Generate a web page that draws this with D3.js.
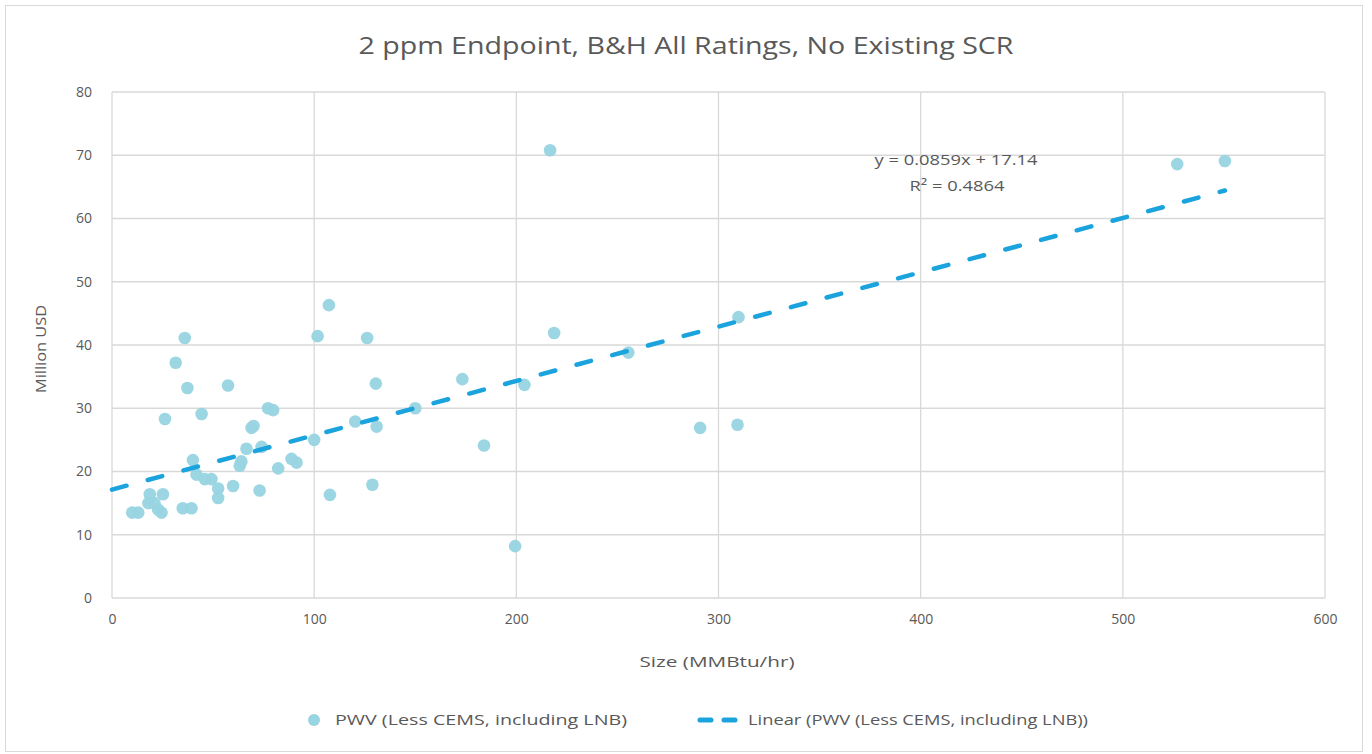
<!DOCTYPE html>
<html><head><meta charset="utf-8">
<script src="https://cdn.jsdelivr.net/npm/d3@7"></script>
<style>
body{margin:0;background:#fff;}
text{font-family:"Open Sans","Noto Sans",sans-serif;fill:#595959;}
</style>
</head><body>
<svg id="c" width="1372" height="754"></svg>
<script>
const title = "2 ppm Endpoint, B&H All Ratings, No Existing SCR";
const xLabel = "Size (MMBtu/hr)";
const yLabel = "Million USD";
const seriesName = "PWV (Less CEMS, including LNB)";
const trendName = "Linear (PWV (Less CEMS, including LNB))";
const eqText = "y = 0.0859x + 17.14";
const r2Text = "R² = 0.4864";
const slope = 0.0859, intercept = 17.14;
const xTicks = [0,100,200,300,400,500,600];
const yTicks = [0,10,20,30,40,50,60,70,80];

const sizeX = [10,13,18,21,18.7,25.2,22.8,24.5,35,39.3,
  26.2,36,31.5,37.3,44.3,57.4,
  40,41.8,45.9,49.2,52.5,52.5,59.9,73,
  63.2,64,66.5,74,69,70,77.2,79.7,
  82.2,88.8,91.3,
  100,101.7,107.3,107.8,
  120.3,126.2,128.8,130.5,130.9,
  150,173.3,184,199.4,204,216.7,218.7,255.4,290.9,309.4,309.9,526.9,550.5];
const pwvY = [13.5,13.5,15,15,16.4,16.4,14,13.5,14.2,14.2,
  28.3,41.1,37.2,33.2,29.1,33.6,
  21.8,19.5,18.8,18.8,17.3,15.8,17.7,17,
  20.9,21.6,23.6,23.9,26.9,27.2,30,29.7,
  20.5,22,21.4,
  25,41.4,46.3,16.3,
  27.9,41.1,17.9,33.9,27.1,
  30,34.6,24.1,8.2,33.7,70.8,41.9,38.8,26.9,27.4,44.4,68.6,69.1];

const W = 1372, H = 754;
const L = 112, R = 1325, T = 92, B = 598;
const svg = d3.select("#c");
const markerColor = "#98d4e1", trendColor = "#1aa3dd", gridColor = "#d9d9d9";

svg.append("rect").attr("x",5.5).attr("y",5.5).attr("width",1357).attr("height",746)
  .attr("fill","#fff").attr("stroke","#d9d9d9");

const x = d3.scaleLinear().domain([0,600]).range([L,R]);
const y = d3.scaleLinear().domain([0,80]).range([B,T]);

// grid
svg.append("g").selectAll("line").data(yTicks).join("line")
  .attr("x1",L).attr("x2",R).attr("y1",d=>y(d)).attr("y2",d=>y(d))
  .attr("stroke",gridColor).attr("stroke-width",1.3);
svg.append("g").selectAll("line").data(xTicks).join("line")
  .attr("y1",T).attr("y2",B).attr("x1",d=>x(d)).attr("x2",d=>x(d))
  .attr("stroke",gridColor).attr("stroke-width",1.3);

// axes (labels only)
const yAxis = svg.append("g").attr("transform",`translate(${L},0)`)
  .call(d3.axisLeft(y).tickValues(yTicks).tickSize(0).tickPadding(20));
yAxis.select(".domain").remove();
yAxis.selectAll("text").style("font-size","14px").attr("fill","#595959");
const xAxis = svg.append("g").attr("transform",`translate(0,${B})`)
  .call(d3.axisBottom(x).tickValues(xTicks).tickSize(0).tickPadding(16));
xAxis.select(".domain").remove();
xAxis.selectAll("text").style("font-size","14px").attr("fill","#595959");

// points
const pts = sizeX.map((v,i)=>({x:v,y:pwvY[i]}));
svg.append("g").selectAll("circle").data(pts).join("circle")
  .attr("cx",d=>x(d.x)).attr("cy",d=>y(d.y)).attr("r",6.3)
  .attr("fill",markerColor).attr("fill-opacity",0.95);

// trendline
const xmin = 0, xmax = d3.max(sizeX);
const line = d3.line().x(d=>x(d)).y(d=>y(slope*d+intercept));
svg.append("path").datum([xmin,xmax]).attr("d",line)
  .attr("fill","none").attr("stroke",trendColor).attr("stroke-width",4.5)
  .attr("stroke-dasharray","15,22").attr("stroke-linecap","round");

// equation
svg.append("text").attr("x",956).attr("y",165).attr("text-anchor","middle")
  .style("font-size","15px").attr("textLength",163).attr("lengthAdjust","spacingAndGlyphs").text(eqText);
svg.append("text").attr("x",957).attr("y",191).attr("text-anchor","middle")
  .style("font-size","15px").attr("textLength",95).attr("lengthAdjust","spacingAndGlyphs").text(r2Text);

// title
svg.append("text").attr("x",686).attr("y",54).attr("text-anchor","middle")
  .style("font-size","24px").attr("textLength",655).attr("lengthAdjust","spacingAndGlyphs").text(title);

// axis titles
svg.append("text").attr("x",717).attr("y",667).attr("text-anchor","middle")
  .style("font-size","15px").attr("textLength",155).attr("lengthAdjust","spacingAndGlyphs").text(xLabel);
svg.append("text").attr("transform",`translate(46,349) rotate(-90)`).attr("text-anchor","middle")
  .style("font-size","15px").attr("textLength",88).attr("lengthAdjust","spacingAndGlyphs").text(yLabel);

// legend
const lg = svg.append("g");
lg.append("circle").attr("cx",314).attr("cy",720).attr("r",6).attr("fill",markerColor);
lg.append("text").attr("x",335).attr("y",725).style("font-size","15px")
  .attr("textLength",292).attr("lengthAdjust","spacingAndGlyphs").text(seriesName);
lg.append("line").attr("x1",700).attr("x2",738).attr("y1",720).attr("y2",720)
  .attr("stroke",trendColor).attr("stroke-width",5).attr("stroke-dasharray","11,13").attr("stroke-linecap","round");
lg.append("text").attr("x",748).attr("y",725).style("font-size","15px")
  .attr("textLength",340).attr("lengthAdjust","spacingAndGlyphs").text(trendName);
</script>
</body></html>
